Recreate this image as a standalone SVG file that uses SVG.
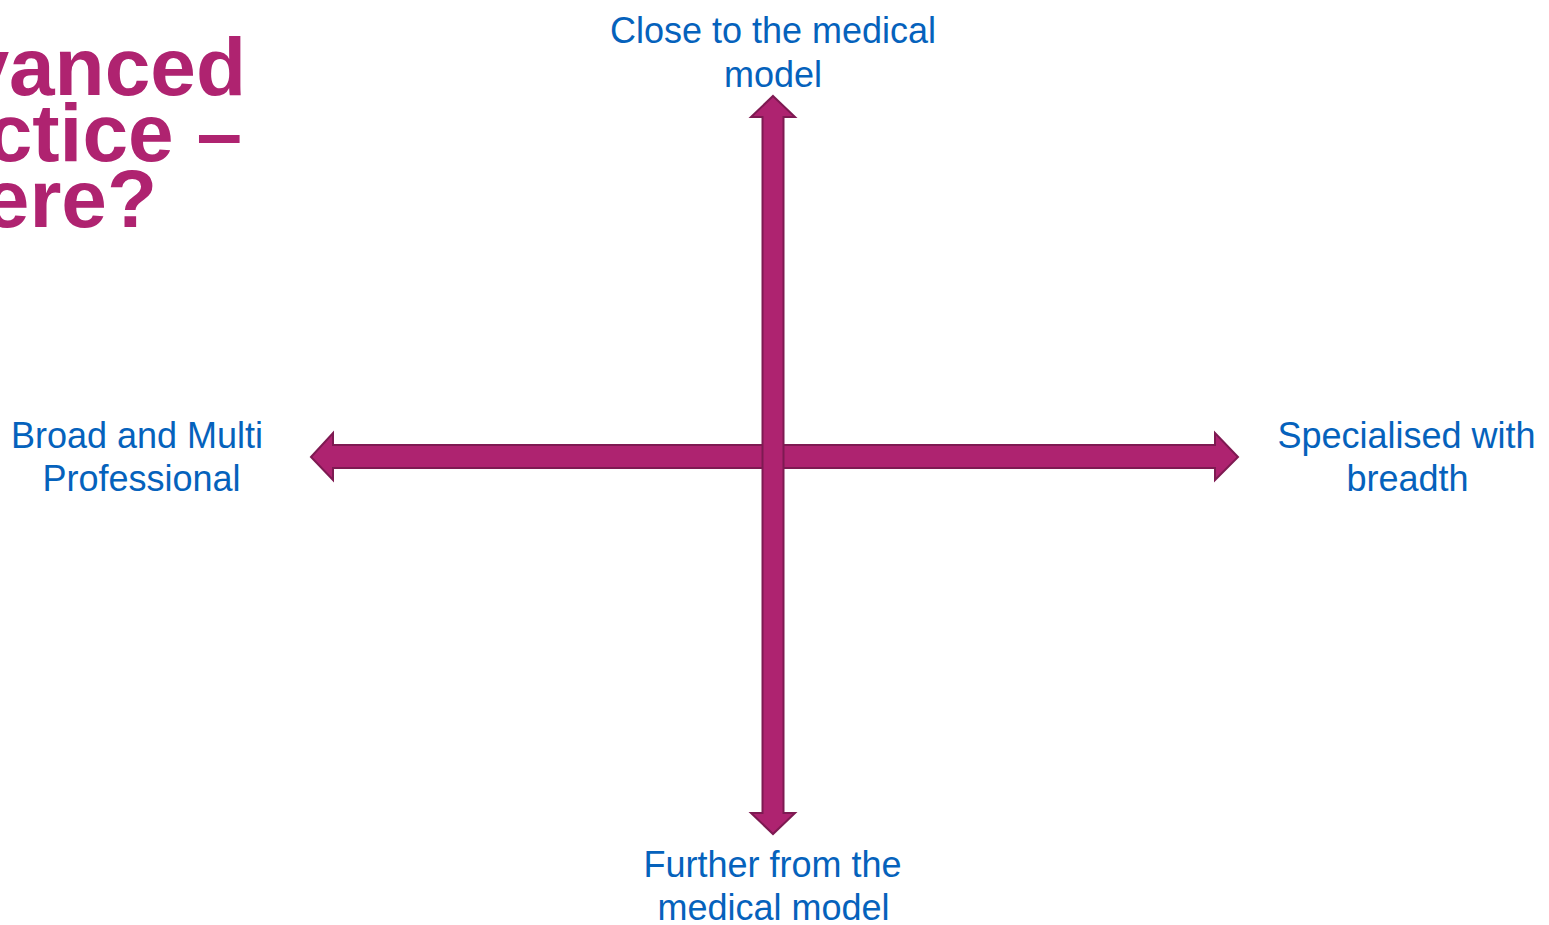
<svg xmlns="http://www.w3.org/2000/svg" width="1549" height="925" viewBox="0 0 1549 925">
<style>
.title{font-family:"Liberation Sans",Arial,sans-serif;font-weight:bold;font-size:82px;fill:#AF2370;}
.lbl{font-family:"Liberation Sans",Arial,sans-serif;font-size:36px;fill:#0562BC;text-anchor:middle;}
.arrow{fill:#AE2370;stroke:#7E1A52;stroke-width:2;stroke-linejoin:miter;}
</style>
<rect width="1549" height="925" fill="#FFFFFF"/>
<g id="title">
<text class="title" x="246" y="95" text-anchor="end">vanced</text>
<text class="title" x="242" y="161" text-anchor="end">ctice –</text>
<text class="title" x="157" y="227" text-anchor="end">ere?</text>
</g>
<g id="connectors">
<polygon class="arrow" points="311,457 333,433 333,445 1215,445 1215,433 1238,457 1215,480 1215,468 333,468 333,480"/>
<polygon class="arrow" points="773,96 795,117 783.5,117 783.5,813 795,813 773,834 751,813 762.5,813 762.5,117 751,117"/>
</g>
<g id="node-top">
<text class="lbl" x="773" y="43">Close to the medical</text>
<text class="lbl" x="773" y="87">model</text>
</g>
<g id="node-left">
<text class="lbl" x="137" y="448">Broad and Multi</text>
<text class="lbl" x="141.5" y="491">Professional</text>
</g>
<g id="node-right">
<text class="lbl" x="1406.5" y="448">Specialised with</text>
<text class="lbl" x="1407.5" y="491">breadth</text>
</g>
<g id="node-bottom">
<text class="lbl" x="772.5" y="877">Further from the</text>
<text class="lbl" x="773.5" y="920">medical model</text>
</g>
</svg>
